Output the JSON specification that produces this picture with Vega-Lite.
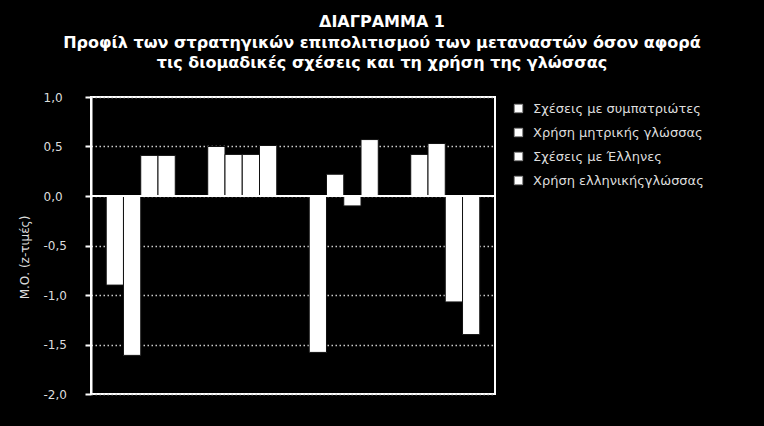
{
  "$schema": "https://vega.github.io/schema/vega-lite/v6.json",
  "width": 404,
  "height": 297,
  "autosize": {"type": "none"},
  "padding": {"left": 91, "top": 97, "right": 269, "bottom": 32},
  "background": "#000000",
  "view": {"stroke": "#ffffff", "strokeWidth": 2, "fill": "#000000"},
  "config": {
    "font": "DejaVu Sans"
  },
  "title": {
    "text": ["ΔΙΑΓΡΑΜΜΑ 1", "Προφίλ των στρατηγικών επιπολιτισμού των μεταναστών όσον αφορά", "τις διομαδικές σχέσεις και τη χρήση της γλώσσας"],
    "font": "DejaVu Sans",
    "fontSize": 16,
    "fontWeight": "bold",
    "color": "#ffffff",
    "anchor": "middle",
    "dx": 89,
    "lineHeight": 20.5,
    "offset": 20
  },
  "data": {
    "values": [
      {"group": "A", "series": "Σχέσεις με συμπατριώτες", "value": -0.90},
      {"group": "A", "series": "Χρήση μητρικής γλώσσας", "value": -1.61},
      {"group": "A", "series": "Σχέσεις με Έλληνες", "value": 0.41},
      {"group": "A", "series": "Χρήση ελληνικήςγλώσσας", "value": 0.41},
      {"group": "B", "series": "Σχέσεις με συμπατριώτες", "value": 0.50},
      {"group": "B", "series": "Χρήση μητρικής γλώσσας", "value": 0.42},
      {"group": "B", "series": "Σχέσεις με Έλληνες", "value": 0.42},
      {"group": "B", "series": "Χρήση ελληνικήςγλώσσας", "value": 0.51},
      {"group": "C", "series": "Σχέσεις με συμπατριώτες", "value": -1.58},
      {"group": "C", "series": "Χρήση μητρικής γλώσσας", "value": 0.22},
      {"group": "C", "series": "Σχέσεις με Έλληνες", "value": -0.10},
      {"group": "C", "series": "Χρήση ελληνικήςγλώσσας", "value": 0.57},
      {"group": "D", "series": "Σχέσεις με συμπατριώτες", "value": 0.42},
      {"group": "D", "series": "Χρήση μητρικής γλώσσας", "value": 0.53},
      {"group": "D", "series": "Σχέσεις με Έλληνες", "value": -1.07},
      {"group": "D", "series": "Χρήση ελληνικήςγλώσσας", "value": -1.40}
    ]
  },
  "layer": [
    {
      "mark": {"type": "bar", "fill": "#ffffff", "stroke": "#111111", "strokeWidth": 1},
      "encoding": {
        "x": {
          "field": "group", "type": "nominal",
          "scale": {"paddingInner": 0.32, "paddingOuter": 0.15, "align": 0.5},
          "axis": null
        },
        "xOffset": {
          "field": "series", "type": "nominal",
          "sort": ["Σχέσεις με συμπατριώτες", "Χρήση μητρικής γλώσσας", "Σχέσεις με Έλληνες", "Χρήση ελληνικήςγλώσσας"],
          "scale": {"paddingInner": 0, "paddingOuter": 0}
        },
        "y": {
          "field": "value", "type": "quantitative",
          "scale": {"domain": [-2, 1], "nice": false, "zero": false},
          "axis": {
            "values": [-2, -1.5, -1, -0.5, 0, 0.5, 1],
            "labelExpr": "replace(replace(format(datum.value, '.1f'), '.', ','), '−', '-')",
            "title": "Μ.Ο. (z-τιμές)",
            "titleColor": "#dddddd",
            "titleFont": "DejaVu Sans",
            "titleFontSize": 12,
            "titleFontWeight": "normal",
            "titleX": -67,
            "titleY": 160,
            "titleAngle": -90,
            "titleAlign": "center",
            "titleBaseline": "middle",
            "labelColor": "#dddddd",
            "labelFont": "DejaVu Sans",
            "labelFontSize": 12,
            "labelAlign": "left",
            "labelPadding": 42,
            "domainColor": "#ffffff",
            "domainWidth": 2,
            "tickColor": "#ffffff",
            "tickSize": 6,
            "tickWidth": 2,
            "grid": true,
            "gridColor": "#cccccc",
            "gridDash": [1.5, 2.5],
            "gridWidth": 1.5
          }
        },
        "fill": {
          "field": "series", "type": "nominal",
          "sort": ["Σχέσεις με συμπατριώτες", "Χρήση μητρικής γλώσσας", "Σχέσεις με Έλληνες", "Χρήση ελληνικήςγλώσσας"],
          "scale": {"range": ["#ffffff", "#ffffff", "#ffffff", "#ffffff"]},
          "legend": {
            "orient": "none",
            "legendX": 421,
            "legendY": 5,
            "title": null,
            "symbolType": "square",
            "symbolSize": 70,
            "symbolFillColor": "#ffffff",
            "symbolStrokeColor": "#888888",
            "symbolStrokeWidth": 1,
            "labelColor": "#dddddd",
            "labelFont": "DejaVu Sans",
            "labelFontSize": 13,
            "labelLimit": 300,
            "rowPadding": 10,
            "labelOffset": 8
          }
        }
      }
    },
    {
      "data": {"values": [{"z": 0}]},
      "mark": {"type": "rule", "color": "#ffffff", "strokeWidth": 2},
      "encoding": {"y": {"field": "z", "type": "quantitative"}}
    }
  ]
}
